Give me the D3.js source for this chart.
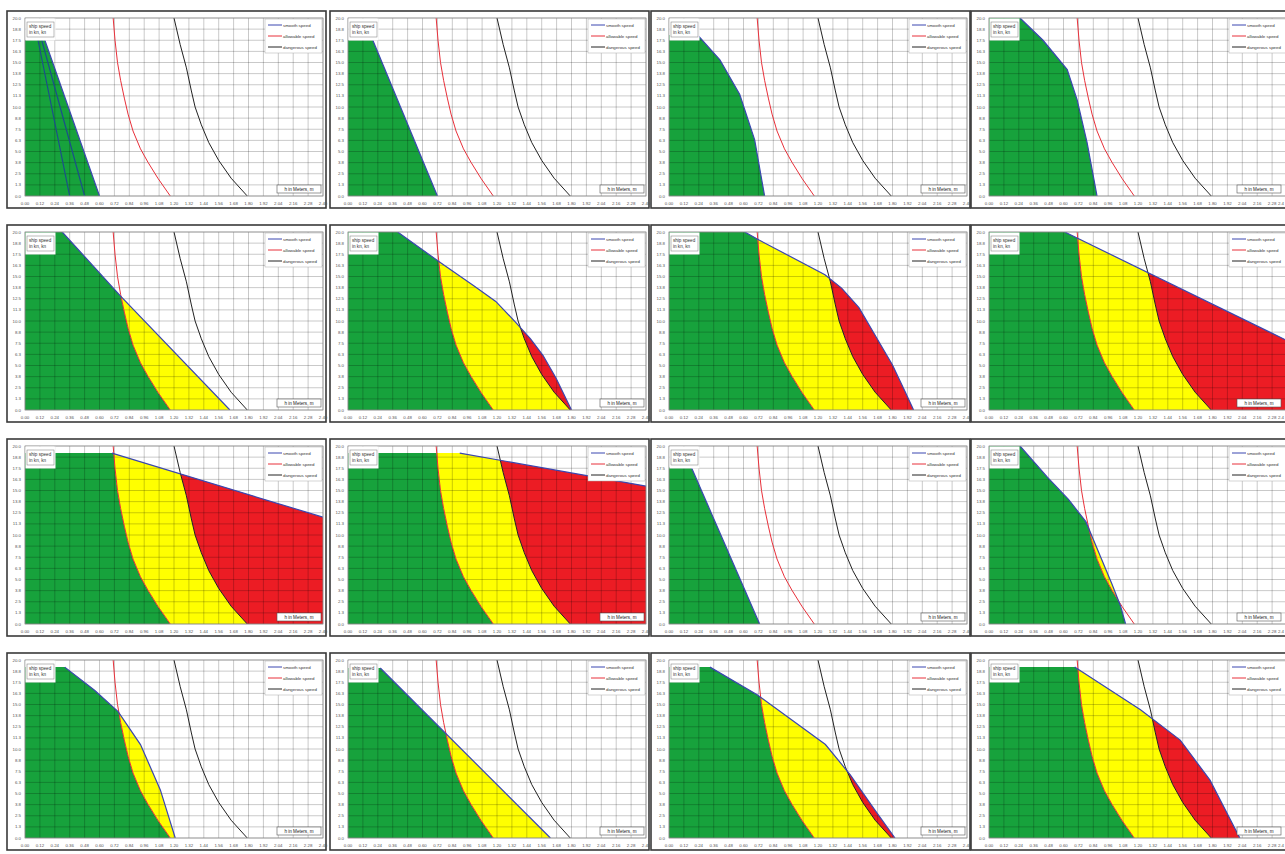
<!DOCTYPE html>
<html>
<head>
<meta charset="utf-8">
<script src="https://cdn.jsdelivr.net/npm/d3@7"></script>
<style>
  body { margin: 0; background: #fff; }
  svg { display: block; font-family: "Liberation Sans", Arial, sans-serif; }
</style>
</head>
<body>
<div id="wrapper"></div>
<script>
// tick values (same for every small chart)
const xTicks = [0, 0.12, 0.24, 0.36, 0.48, 0.60, 0.72, 0.84, 0.96, 1.08, 1.20, 1.32, 1.44, 1.56, 1.68, 1.80, 1.92, 2.04, 2.16, 2.28, 2.40];
const yTicks = [0, 1.25, 2.5, 3.75, 5, 6.25, 7.5, 8.75, 10, 11.25, 12.5, 13.75, 15, 16.25, 17.5, 18.75, 20];
const legendNames = ["smooth speed", "allowable speed", "dangerous speed"];
const speedLabel = ["ship speed", "in kn, kn"];
const distLabel = "h in Meters, m";

// allowable / dangerous speed curves [x, speed]
const allowable = [[0.71, 20], [0.725, 17.5], [0.745, 15], [0.77, 13], [0.80, 11], [0.83, 9.2], [0.87, 7.3], [0.93, 5.3], [0.99, 3.8], [1.07, 2.0], [1.17, 0]];
const dangerous = [[1.20, 20], [1.25, 17], [1.30, 14.4], [1.34, 11.8], [1.37, 10], [1.42, 8], [1.48, 6], [1.56, 4], [1.66, 2], [1.79, 0]];

// smooth speed envelope of each chart, row by row
const env11 = [[0, 17.5], [0.16, 17.5], [0.60, 0]];
const env12 = [[0, 17.5], [0.20, 17.5], [0.72, 0]];
const env13 = [[0, 18.1], [0.23, 18.1], [0.41, 15.3], [0.57, 11.4], [0.69, 6.3], [0.77, 0]];
const env14 = [[0, 20], [0.25, 20], [0.435, 17.5], [0.63, 14.2], [0.71, 10.8], [0.79, 6.0], [0.87, 0]];
const env21 = [[0, 20], [0.30, 20], [0.77, 12.8], [1.65, 0]];
const env22 = [[0, 20], [0.40, 20], [0.74, 16.6], [1.01, 14.0], [1.19, 12.2], [1.345, 9.94], [1.47, 8.0], [1.57, 6.15], [1.675, 3.6], [1.80, 0]];
const env23 = [[0, 20], [0.61, 20], [0.725, 19.1], [1.256, 15.2], [1.39, 13.7], [1.53, 11.5], [1.66, 8.4], [1.80, 5.06], [1.90, 2.1], [1.97, 0]];
const env24 = [[0, 20], [0.61, 20], [2.4, 7.8]];
const env31 = [[0, 19.2], [0.70, 19.2], [2.4, 12.0]];
const env32 = [[0, 19.2], [0.90, 19.2], [2.4, 15.5]];
const env33 = [[0, 17.6], [0.18, 17.6], [0.73, 0]];
const env34 = [[0, 20], [0.25, 20], [0.47, 16.5], [0.64, 14.0], [0.78, 11.5], [0.90, 7.5], [0.99, 4.5], [1.06, 2.0], [1.10, 0]];
const env41 = [[0, 19.2], [0.32, 19.2], [0.56, 16.6], [0.75, 14.2], [0.93, 10.5], [1.09, 5.4], [1.21, 0]];
const env42 = [[0, 19.1], [0.26, 19.1], [1.63, 0]];
const env43 = [[0, 19.2], [0.33, 19.2], [0.71, 16.1], [1.26, 10.5], [1.46, 7.1], [1.66, 3.1], [1.82, 0]];
const env44 = [[0, 19.2], [0.69, 19.2], [1.22, 14.4], [1.54, 11.0], [1.78, 6.5], [2.02, 0]];

// extra smooth speed lines in the first chart
const extraLines11 = [[[0.105, 17.5], [0.36, 0]], [[0.135, 17.5], [0.48, 0]]];

const envelopes = [env11, env12, env13, env14, env21, env22, env23, env24,
  env31, env32, env33, env34, env41, env42, env43, env44];

const colX = [7, 330, 651, 971];
const rowY = [11, 225, 439, 653];
const panelW = 319, panelH = 197;
const plotL = 18, plotT = 7, plotW = 298, plotH = 178;

const green = "#17a23c", yellow = "#ffff00", red = "#ec1c24";

const svg = d3.select("#wrapper").append("svg")
  .attr("width", 1285)
  .attr("height", 854);

const x = d3.scaleLinear().domain([0, 2.4]).range([0, plotW]);
const y = d3.scaleLinear().domain([0, 20]).range([plotH, 0]);
const line = d3.line().x(d => x(d[0])).y(d => y(d[1]));
const defs = svg.append("defs");

envelopes.forEach((env, i) => {
  const col = i % 4;
  const ox = colX[col], oy = rowY[Math.floor(i / 4)];
  const panel = svg.append("g").attr("transform", `translate(${ox},${oy})`);

  panel.append("rect")
    .attr("x", 0).attr("y", 0)
    .attr("width", panelW).attr("height", panelH)
    .attr("fill", "#fff")
    .attr("stroke", "#3a3a3a")
    .attr("stroke-width", 1.6);

  const g = panel.append("g").attr("transform", `translate(${plotL},${plotT})`);

  // area under the envelope
  const last = env[env.length - 1];
  const area = env.concat([[last[0], 0], [0, 0]]);
  defs.append("clipPath").attr("id", "env" + i)
    .append("path").attr("d", line(area) + "Z");
  defs.append("clipPath").attr("id", "plot" + i)
    .append("rect").attr("width", plotW).attr("height", plotH);

  g.append("rect").attr("width", plotW).attr("height", plotH).attr("fill", "#fff");

  const fills = g.append("g").attr("clip-path", `url(#env${i})`);
  fills.append("path")
    .attr("d", line([[0, 0], [0, 20]].concat(allowable)) + "Z")
    .attr("fill", green);
  fills.append("path")
    .attr("d", line(allowable.concat(dangerous.slice().reverse())) + "Z")
    .attr("fill", yellow);
  fills.append("path")
    .attr("d", line(dangerous.concat([[2.4, 0], [2.4, 20]])) + "Z")
    .attr("fill", red);

  // grid
  g.append("g").selectAll("line.v").data(xTicks).join("line")
    .attr("x1", d => x(d)).attr("x2", d => x(d))
    .attr("y1", 0).attr("y2", plotH)
    .attr("stroke", "#000").attr("stroke-opacity", 0.24).attr("stroke-width", 0.9);
  g.append("g").selectAll("line.h").data(yTicks).join("line")
    .attr("x1", 0).attr("x2", plotW)
    .attr("y1", d => y(d)).attr("y2", d => y(d))
    .attr("stroke", "#000").attr("stroke-opacity", 0.24).attr("stroke-width", 0.9);

  const lines = g.append("g").attr("clip-path", `url(#plot${i})`);
  lines.append("path").attr("d", line(allowable))
    .attr("fill", "none").attr("stroke", "#e8303a").attr("stroke-width", 1);
  lines.append("path").attr("d", line(dangerous))
    .attr("fill", "none").attr("stroke", "#222").attr("stroke-width", 1);
  lines.append("path").attr("d", line(env.slice(1)))
    .attr("fill", "none").attr("stroke", "#3a46b0").attr("stroke-width", 1.2);
  if (i === 0) {
    extraLines11.forEach(l => {
      lines.append("path").attr("d", line(l))
        .attr("fill", "none").attr("stroke", "#1b4f8a").attr("stroke-width", 1.2);
    });
  }

  g.append("rect").attr("width", plotW).attr("height", plotH)
    .attr("fill", "none").attr("stroke", "#999").attr("stroke-width", 0.8);

  // speed label box (top-left)
  g.append("rect").attr("x", 0.5).attr("y", 0.5).attr("width", 30).attr("height", 22).attr("fill", "#fff");
  g.append("rect").attr("x", 2).attr("y", 4).attr("width", 27).attr("height", 15)
    .attr("fill", "#fff").attr("stroke", "#777").attr("stroke-width", 0.5);
  speedLabel.forEach((t, k) => {
    g.append("text").attr("x", 4).attr("y", 10 + k * 6)
      .attr("font-size", 4.6).attr("fill", "#333").text(t);
  });

  // legend (top-right)
  const lg = g.append("g").attr("transform", `translate(${plotW - 58},1)`);
  lg.append("rect").attr("width", 57).attr("height", 34)
    .attr("fill", "#fff").attr("stroke", "#aaa").attr("stroke-width", 0.5);
  const legendColors = ["#3a46b0", "#e8303a", "#222"];
  legendNames.forEach((t, k) => {
    lg.append("line").attr("x1", 3).attr("x2", 17)
      .attr("y1", 6 + k * 11).attr("y2", 6 + k * 11)
      .attr("stroke", legendColors[k]).attr("stroke-width", 1);
    lg.append("text").attr("x", 18).attr("y", 7.6 + k * 11)
      .attr("font-size", 4.4).attr("fill", "#333").text(t);
  });

  // distance label (bottom-right)
  const lx = col === 3 ? plotW - 50 : plotW - 46;
  g.append("rect").attr("x", lx).attr("y", plotH - 11).attr("width", 44).attr("height", 8)
    .attr("fill", "#fff").attr("stroke", "#555").attr("stroke-width", 0.6);
  g.append("text").attr("x", lx + 22).attr("y", plotH - 5.3)
    .attr("text-anchor", "middle").attr("font-size", 4.6).attr("fill", "#222").text(distLabel);

  // tick labels (the last one in the right column is shortened to fit the edge)
  const lastTick = xTicks[xTicks.length - 1];
  g.append("g").selectAll("text").data(xTicks).join("text")
    .attr("x", d => x(d)).attr("y", plotH + 9)
    .attr("text-anchor", d => (col === 3 && d === lastTick) ? "end" : "middle")
    .attr("dx", d => (col === 3 && d === lastTick) ? -3 : 0)
    .attr("font-size", 4.4).attr("fill", "#555")
    .text(d => (col === 3 && d === lastTick) ? d3.format(".1f")(d) : d3.format(".2f")(d));
  g.append("g").selectAll("text").data(yTicks).join("text")
    .attr("x", -4).attr("y", d => y(d) + 1.6)
    .attr("text-anchor", "end").attr("font-size", 4.4).attr("fill", "#555")
    .text(d => d3.format(".1f")(d));
});
</script>
</body>
</html>
